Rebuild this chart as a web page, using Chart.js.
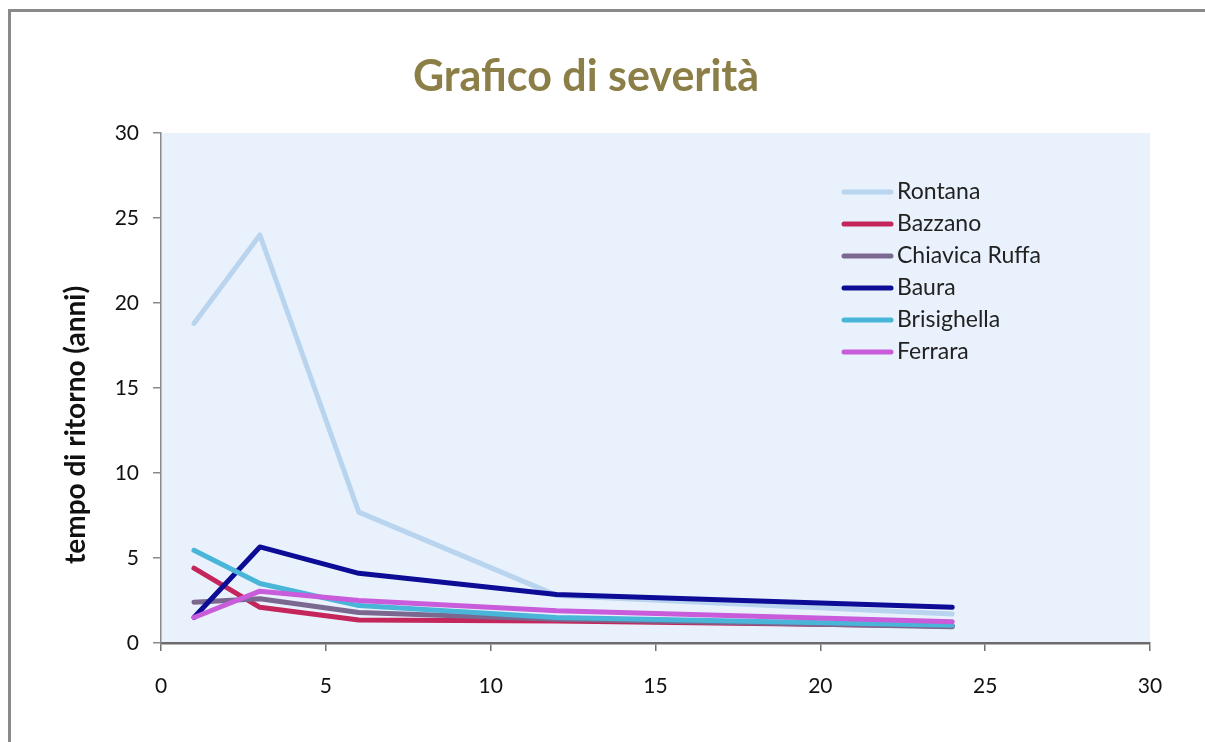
<!DOCTYPE html>
<html>
<head>
<meta charset="utf-8">
<script src="https://cdn.jsdelivr.net/npm/chart.js@4/dist/chart.umd.min.js"></script>
<style>
  html, body { margin: 0; padding: 0; background: #ffffff; overflow: hidden; }
  #wrap { width: 1205px; height: 742px; position: relative; overflow: hidden; }
  canvas { display: block; }
</style>
</head>
<body>
<div id="wrap"><canvas id="c" width="1205" height="742"></canvas></div>
<script>
// Durata (mesi) e tempo di ritorno (anni) per ciascuna stazione
const durate = [1, 3, 6, 12, 24];
const rontana = [18.8, 24.0, 7.7, 2.8, 1.7];
const bazzano = [4.4, 2.1, 1.35, 1.3, 1.0];
const chiavicaRuffa = [2.4, 2.6, 1.8, 1.4, 0.95];
const baura = [1.5, 5.65, 4.1, 2.85, 2.1];
const brisighella = [5.45, 3.5, 2.2, 1.5, 1.05];
const ferrara = [1.5, 3.05, 2.5, 1.9, 1.25];

const xTicks = [0, 5, 10, 15, 20, 25, 30];
const yTicks = [0, 5, 10, 15, 20, 25, 30];

const titolo = 'Grafico di severità';
const titoloAsseY = 'tempo di ritorno (anni)';

const serie = [
  { label: 'Rontana', values: rontana, color: '#B8D4EE' },
  { label: 'Bazzano', values: bazzano, color: '#C4255A' },
  { label: 'Chiavica Ruffa', values: chiavicaRuffa, color: '#7A6890' },
  { label: 'Baura', values: baura, color: '#0C0C96' },
  { label: 'Brisighella', values: brisighella, color: '#49B5D9' },
  { label: 'Ferrara', values: ferrara, color: '#C95CDA' }
];

const datasets = serie.map((s, i) => ({
  label: s.label,
  data: durate.map((d, k) => ({ x: d, y: s.values[k] })),
  borderColor: s.color,
  backgroundColor: s.color,
  borderWidth: 5,
  pointRadius: 0,
  tension: 0,
  fill: false,
  borderCapStyle: 'round',
  borderJoinStyle: 'round',
  order: serie.length - i
}));

// Cornice, sfondo dell'area del grafico, titolo e legenda
const decorazioni = {
  id: 'decorazioni',
  beforeDraw(chart) {
    const { ctx, chartArea: a } = chart;
    ctx.save();
    ctx.fillStyle = '#ffffff';
    ctx.fillRect(0, 0, chart.width, chart.height);
    ctx.strokeStyle = '#8a8a8a';
    ctx.lineWidth = 3;
    ctx.beginPath();
    ctx.moveTo(9.5, chart.height + 5);
    ctx.lineTo(9.5, 10.5);
    ctx.lineTo(chart.width + 5, 10.5);
    ctx.stroke();
    ctx.fillStyle = '#E9F2FC';
    ctx.fillRect(a.left, a.top, a.right - a.left, a.bottom - a.top);
    ctx.restore();
  },
  afterDraw(chart) {
    const { ctx } = chart;
    ctx.save();
    ctx.fillStyle = '#8C7E47';
    ctx.font = 'bold 43px Lato';
    ctx.textAlign = 'center';
    ctx.textBaseline = 'middle';
    ctx.fillText(titolo, 586, 77);

    ctx.fillStyle = '#111111';
    ctx.font = 'bold 28px Lato';
    ctx.translate(76, 425);
    ctx.rotate(-Math.PI / 2);
    ctx.fillText(titoloAsseY, 0, 0);
    ctx.restore();

    ctx.save();
    ctx.font = '23px Lato';
    ctx.textAlign = 'left';
    ctx.textBaseline = 'middle';
    chart.data.datasets.forEach((ds, i) => {
      const y = 192 + i * 32;
      ctx.strokeStyle = ds.borderColor;
      ctx.lineWidth = 5;
      ctx.lineCap = 'round';
      ctx.beginPath();
      ctx.moveTo(844, y);
      ctx.lineTo(891, y);
      ctx.stroke();
      ctx.fillStyle = '#222222';
      ctx.fillText(ds.label, 897, y);
    });
    ctx.restore();
  }
};

new Chart(document.getElementById('c'), {
  type: 'line',
  data: { datasets },
  plugins: [decorazioni],
  options: {
    responsive: false,
    animation: false,
    events: [],
    layout: { padding: { top: 133, right: 55, bottom: 0, left: 0 } },
    plugins: {
      legend: { display: false },
      title: { display: false },
      tooltip: { enabled: false }
    },
    scales: {
      x: {
        type: 'linear',
        min: 0,
        max: 30,
        afterBuildTicks(scale) { scale.ticks = xTicks.map(v => ({ value: v })); },
        afterFit(scale) { scale.height = 99; },
        ticks: { color: '#111111', font: { family: 'Lato', size: 21 }, padding: 23, maxRotation: 0 },
        grid: { display: true, drawOnChartArea: false, drawTicks: true, tickLength: 8, color: '#707070', lineWidth: 1.5 },
        border: { display: true, color: '#6c6c6c', width: 2.5 }
      },
      y: {
        type: 'linear',
        min: 0,
        max: 30,
        afterBuildTicks(scale) { scale.ticks = yTicks.map(v => ({ value: v })); },
        afterFit(scale) { scale.width = 161; },
        ticks: { color: '#111111', font: { family: 'Lato', size: 21 }, padding: 14 },
        grid: { display: true, drawOnChartArea: false, drawTicks: true, tickLength: 8, color: '#8a8a8a', lineWidth: 1.5 },
        border: { display: true, color: '#8a8a8a', width: 1.5 }
      }
    }
  }
});
</script>
</body>
</html>
